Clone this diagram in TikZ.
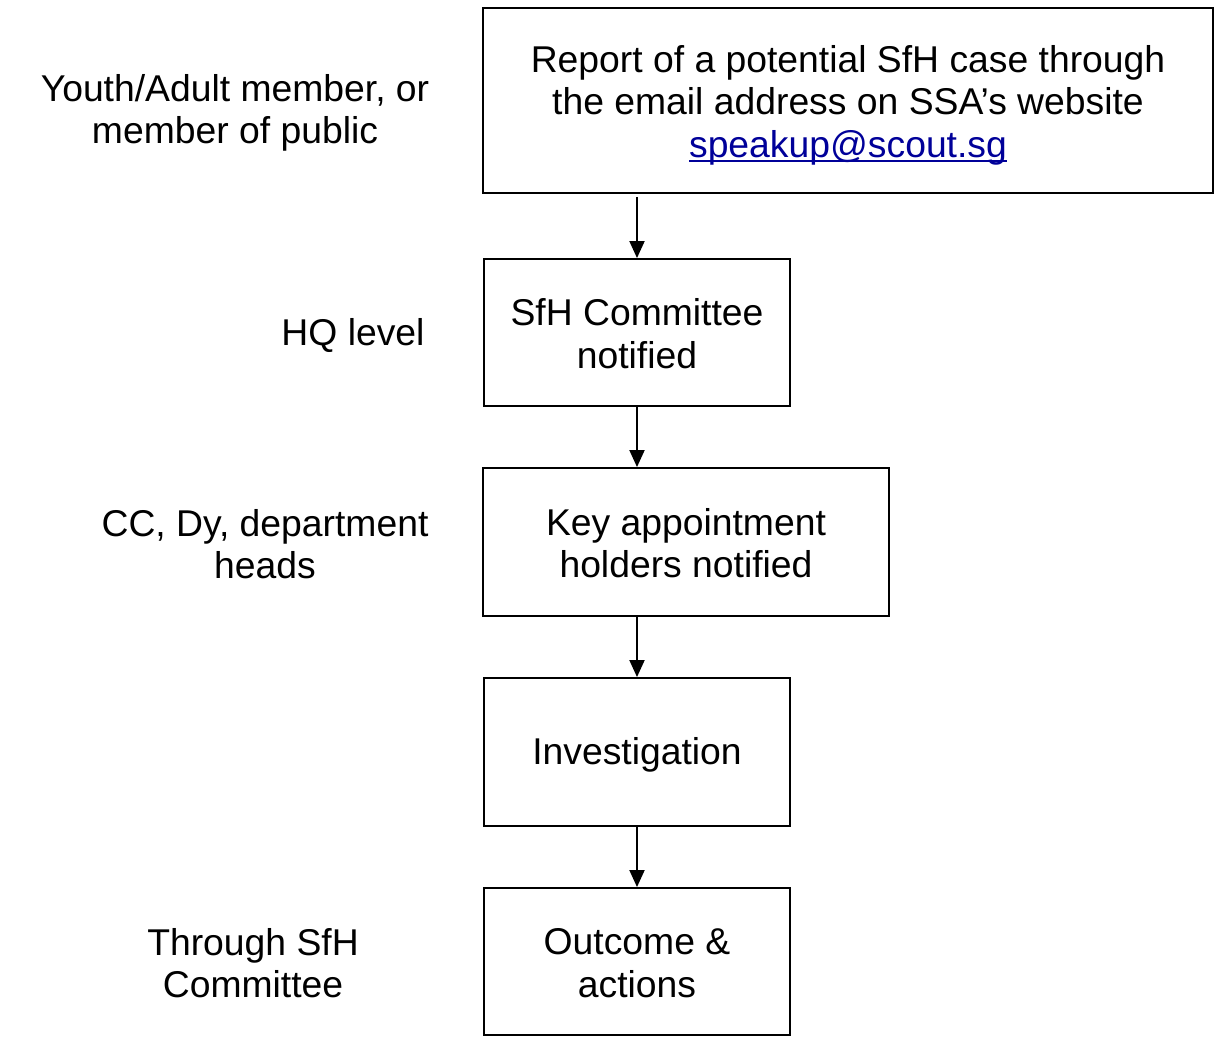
\documentclass[tikz,border=0pt]{standalone}
\usepackage{fontspec}
\setmainfont{Liberation Sans}
\usetikzlibrary{arrows.meta}
\definecolor{linkblue}{RGB}{0,0,153}
\newcommand{\lstrut}{\rule[-0.212em]{0pt}{1.117em}}
\newcommand{\lstrutx}{\rule[-0.212em]{0pt}{\dimexpr 1.117em+3pt\relax}}
\newcommand{\linkul}[1]{\setbox0\hbox{#1}\rlap{\rule[-4.5pt]{\wd0}{2pt}}\box0}
\tikzset{
  txt/.style={align=center, inner sep=0pt, font=\fontsize{37.3}{42.6}\selectfont},
  boxline/.style={draw=black, line width=1.9pt},
  flowarrow/.style={line width=1.9pt, -{Triangle[width=15pt,length=17pt]}},
}
\begin{document}
\begin{tikzpicture}[x=1pt,y=-1pt]
\useasboundingbox (0,0) rectangle (1215,1041);
\node[txt, boxline, minimum width=730pt, minimum height=185pt] (b1) at (848,100.5)
  {\lstrutx Report of a potential SfH case through\\the email address on SSA’s website\\{\color{linkblue}\linkul{speakup@scout.sg}}\lstrut};
\node[txt, boxline, minimum width=306pt, minimum height=147pt] (b2) at (637,332.5) {\lstrutx SfH Committee\\notified\lstrut};
\node[txt, boxline, minimum width=406pt, minimum height=148pt] (b3) at (686,542) {\lstrutx Key appointment\\holders notified\lstrut};
\node[txt, boxline, minimum width=306pt, minimum height=148pt] (b4) at (637,752) {\lstrut Investigation};
\node[txt, boxline, minimum width=306pt, minimum height=147pt] (b5) at (637,961.5) {\lstrutx Outcome \&\\actions\lstrut};

\node[txt] (l1) at (235,108) {\lstrutx Youth/Adult member, or\\member of public\lstrut};
\node[txt] (l2) at (353,333) {\lstrut HQ level};
\node[txt] (l3) at (265,543) {\lstrutx CC, Dy, department\\heads\lstrut};
\node[txt] (l4) at (253,962) {\lstrutx Through SfH\\Committee\lstrut};

\draw[flowarrow, shorten <=3pt] (b2.north |- b1.south) -- (b2.north);
\draw[flowarrow] (b2.south) -- (b2.south |- b3.north);
\draw[flowarrow] (b4.north |- b3.south) -- (b4.north);
\draw[flowarrow] (b4.south) -- (b5.north);
\end{tikzpicture}
\end{document}
